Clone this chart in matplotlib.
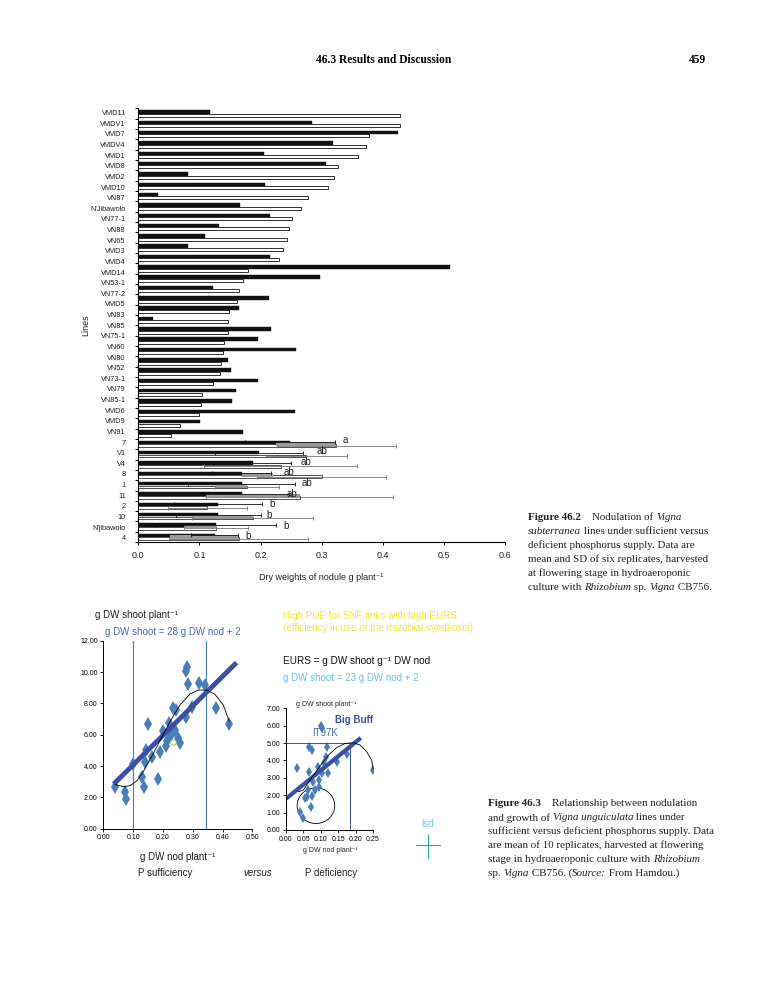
import numpy as np
import matplotlib
matplotlib.use("Agg")
import matplotlib.pyplot as plt
from matplotlib.patches import Ellipse

plt.rcParams['font.family'] = ['Liberation Sans', 'DejaVu Sans']

# ---- Figure 46.2 data (nodule dry weight, g/plant) ----
lines_top = ["VMD11", "VMDV1", "VMD7", "VMDV4", "VMD1", "VMD8", "VMD2", "VMD10", "VN87",
             "N'Jibawolo", "VN77-1", "VN88", "VN65", "VMD3", "VMD4", "VMD14", "VN53-1",
             "VN77-2", "VMD5", "VN83", "VN85", "VN75-1", "VN60", "VN80", "VN52", "VN73-1",
             "VN79", "VN85-1", "VMD6", "VMD9", "VN91"]
black_top = [0.117, 0.285, 0.425, 0.318, 0.206, 0.307, 0.081, 0.207, 0.032, 0.166, 0.215,
             0.132, 0.109, 0.081, 0.215, 0.510, 0.297, 0.122, 0.214, 0.165, 0.024, 0.217,
             0.196, 0.258, 0.147, 0.152, 0.196, 0.160, 0.153, 0.256, 0.101, 0.172]
white_top = [0.429, 0.429, 0.378, 0.372, 0.360, 0.326, 0.321, 0.311, 0.277, 0.267, 0.252,
             0.246, 0.244, 0.236, 0.230, 0.180, 0.171, 0.164, 0.161, 0.149, 0.146, 0.146,
             0.140, 0.138, 0.135, 0.133, 0.123, 0.104, 0.102, 0.100, 0.069, 0.053]

lines_bot = ["7", "V1", "V4", "8", "1", "11", "2", "10", "N'jibawolo", "4"]
black_bot = [0.248, 0.197, 0.187, 0.169, 0.169, 0.169, 0.131, 0.131, 0.127, 0.125]
black_sd = [0.074, 0.072, 0.063, 0.048, 0.087, 0.077, 0.072, 0.070, 0.099, 0.038]
white_bot = [0.324, 0.275, 0.233, 0.300, 0.178, 0.264, 0.113, 0.187, 0.127, 0.164]
white_sd = [0.097, 0.066, 0.125, 0.105, 0.053, 0.153, 0.065, 0.099, 0.052, 0.113]
grey_lo = [0.226, None, None, 0.169, 0.127, 0.110, None, 0.090, 0.075, 0.052]
grey_hi = [0.324, None, None, 0.220, 0.178, 0.264, None, 0.187, 0.127, 0.164]
letters = ["a", "ab", "ab", "ab", "ab", "ab", "b", "b", "b", "b"]
letter_x = [0.335, 0.291, 0.265, 0.238, 0.268, 0.243, 0.214, 0.209, 0.238, 0.175]

# ---- Figure 46.3 data ----
suff_nod = [0.039, 0.073, 0.076, 0.100, 0.131, 0.138, 0.141, 0.143, 0.150, 0.162, 0.182,
            0.191, 0.201, 0.209, 0.213, 0.220, 0.228, 0.234, 0.240, 0.244, 0.251, 0.258,
            0.276, 0.279, 0.282, 0.285, 0.299, 0.322, 0.341, 0.378, 0.423]
suff_shoot = [2.64, 2.36, 1.87, 4.10, 3.28, 2.66, 4.28, 5.02, 6.66, 4.60, 3.15,
              4.87, 6.26, 5.28, 5.60, 6.72, 5.98, 7.70, 6.30, 7.55, 5.77, 5.45,
              7.15, 10.06, 10.30, 9.21, 7.79, 9.32, 9.19, 7.72, 6.68]
suff_fit_x = [0.035, 0.447]
suff_fit_y = [2.85, 10.6]
suff_curve_x = [0.039, 0.067, 0.089, 0.112, 0.134, 0.168, 0.201, 0.229, 0.257, 0.291,
                0.319, 0.347, 0.375, 0.403, 0.423]
suff_curve_y = [2.83, 2.68, 2.74, 3.04, 3.64, 4.81, 6.02, 7.00, 7.89, 8.60,
                8.85, 8.85, 8.57, 7.89, 6.83]
suff_vlines = [0.10, 0.345]

def_nod = [0.033, 0.041, 0.050, 0.055, 0.059, 0.062, 0.067, 0.067, 0.071, 0.074, 0.076,
           0.078, 0.083, 0.093, 0.095, 0.096, 0.103, 0.104, 0.109, 0.115, 0.117, 0.122,
           0.146, 0.176, 0.251]
def_shoot = [3.54, 1.05, 0.71, 1.82, 1.92, 2.30, 3.35, 4.75, 1.34, 1.95, 4.60,
             2.78, 2.30, 3.64, 2.45, 2.87, 3.26, 5.84, 3.87, 4.21, 4.75, 3.29,
             3.93, 4.40, 3.45]
def_fit_x = [0.0, 0.215]
def_fit_y = [1.8, 5.3]
def_curve_x = [0.035, 0.050, 0.069, 0.098, 0.122, 0.146, 0.170, 0.193, 0.213, 0.232, 0.246, 0.251]
def_curve_y = [2.20, 2.30, 2.87, 3.68, 4.31, 4.75, 4.98, 5.02, 4.89, 4.50, 4.02, 3.45]

W, H = 765, 990
fig = plt.figure(figsize=(W / 100, H / 100), dpi=100)
renderer = fig.canvas.get_renderer()


def fx(x):
    return x / W


def fy(y):
    return 1 - y / H


def axrect(l, t, r, b):
    return [l / W, 1 - b / H, (r - l) / W, (b - t) / H]


serif = 'Liberation Serif'


def rich_line(x, y, parts, size):
    # parts: list of (text, style) where style is 'n', 'i' or 'b'
    cur = x
    for txt, st in parts:
        t = fig.text(fx(cur), fy(y), txt, family=serif, size=size, ha='left', va='center',
                     color='#222222', style='italic' if st == 'i' else 'normal',
                     weight='bold' if st == 'b' else 'normal')
        cur += t.get_window_extent(renderer).width


# page header
fig.text(fx(384), fy(60), "46.3 Results and Discussion", family=serif, weight='bold',
         size=8.3, ha='center', va='center')
fig.text(fx(706), fy(60), "459", family=serif, weight='bold', size=8.3, ha='right', va='center')

# ================= Figure 46.2 bar chart =================
ax = fig.add_axes(axrect(138.3, 108, 505, 542.3))
n_bars = len(black_top) + len(black_bot)
# bars sit on 42 evenly spaced slots, labels on 41 slots (as in the original)
pos = np.linspace(-0.07, 39.78, n_bars)
off = 0.31
nt = len(black_top)
ax.barh(pos[:nt], black_top, height=0.32, color='#111111', edgecolor='#111111', linewidth=0.3)
ax.barh(pos[:nt] + off, white_top, height=0.27, color='white', edgecolor='#111111', linewidth=0.6)

pb = pos[nt:]
ax.barh(pb, black_bot, height=0.32, color='#111111', edgecolor='#111111', linewidth=0.3)
ax.barh(pb + off, white_bot, height=0.27, color='white', edgecolor='#333333', linewidth=0.6)
for i in range(len(lines_bot)):
    if grey_lo[i] is not None:
        ax.barh(pb[i] + off / 2, grey_hi[i] - grey_lo[i], left=grey_lo[i], height=0.3,
                color='#9a9a9a', edgecolor='none')
ax.errorbar(black_bot, pb, xerr=black_sd, fmt='none', ecolor='#111111', elinewidth=0.6,
            capsize=1.6, capthick=0.6)
ax.errorbar(white_bot, pb + off, xerr=white_sd, fmt='none', ecolor='#777777', elinewidth=0.6,
            capsize=1.6, capthick=0.6)
lab_pos = np.arange(len(lines_top) + len(lines_bot))
for i, t in enumerate(letters):
    ax.text(letter_x[i], lab_pos[len(lines_top) + i] - 0.15, t, size=7, color='#222222',
            ha='left', va='center')

ax.set_xlim(0, 0.6)
ax.set_ylim(40.43, -0.44)
ax.set_yticks(lab_pos)
ax.set_yticklabels(lines_top + lines_bot)
step = pos[1] - pos[0]
ax.set_yticks(np.append(pos + 0.15 - step / 2, pos[-1] + 0.15 + step / 2), minor=True)
ax.tick_params(axis='y', which='major', length=0, labelsize=5.3, pad=9, labelcolor='#222222')
ax.tick_params(axis='y', which='minor', length=2.5, width=0.7, direction='out')
ax.set_xticks(np.arange(0, 0.61, 0.1))
ax.set_xticklabels(["0.0", "0.1", "0.2", "0.3", "0.4", "0.5", "0.6"])
ax.tick_params(axis='x', length=2.5, width=0.7, labelsize=6.5, pad=4, labelcolor='#222222')
for s in ['top', 'right']:
    ax.spines[s].set_visible(False)
ax.spines['left'].set_linewidth(0.8)
ax.spines['bottom'].set_linewidth(0.8)
ax.set_xlabel("Dry weights of nodule g plant⁻¹", size=6.5, labelpad=9, color='#222222')
ax.set_ylabel("Lines", size=6.5, labelpad=0, color='#222222')

cap1 = [[("Figure 46.2", 'b'), ("    Nodulation of ", 'n'), ("Vigna", 'i')],
        [("subterranea", 'i'), (" lines under sufficient versus", 'n')],
        [("deficient phosphorus supply. Data are", 'n')],
        [("mean and SD of six replicates, harvested", 'n')],
        [("at flowering stage in hydroaeroponic", 'n')],
        [("culture with ", 'n'), ("Rhizobium", 'i'), (" sp. ", 'n'), ("Vigna", 'i'),
         (" CB756.", 'n')]]
for i, parts in enumerate(cap1):
    rich_line(528, 518 + 13.8 * i, parts, 7.9)

# ================= Figure 46.3 scatter plots =================
blue = '#4a7ebb'
dark = '#3d4fa1'
ax1 = fig.add_axes(axrect(103.3, 640.7, 252.3, 828.7))
ax1.plot(suff_nod, suff_shoot, 'd', color=blue, markersize=6.8, markeredgewidth=0)
for v in suff_vlines:
    ax1.axvline(v, color=blue, lw=0.8)
ax1.plot(suff_fit_x, suff_fit_y, color=dark, lw=3.5, solid_capstyle='butt')
ax1.plot(suff_curve_x, suff_curve_y, color='black', lw=0.6)
ax1.plot([0.235], [5.55], 'o', mfc='none', mec='#9ad04a', ms=4, mew=0.7)
ax1.set_xlim(0, 0.5)
ax1.set_ylim(0, 12)
ax1.set_xticks(np.arange(0, 0.51, 0.1))
ax1.set_xticklabels(["%.2f" % v for v in np.arange(0, 0.51, 0.1)])
ax1.set_yticks(np.arange(0, 12.1, 2))
ax1.set_yticklabels(["%.2f" % v for v in np.arange(0, 12.1, 2)])
ax1.tick_params(labelsize=5, length=2, width=0.6, pad=2)
for s in ['top', 'right']:
    ax1.spines[s].set_visible(False)
ax1.spines['left'].set_linewidth(0.7)
ax1.spines['bottom'].set_linewidth(0.7)

ax2 = fig.add_axes(axrect(286, 708.3, 373, 830))
ax2.plot(def_nod, def_shoot, 'd', color=blue, markersize=4.6, markeredgewidth=0)
ax2.plot([0, 0.185, 0.185], [5.0, 5.0, 0], color=dark, lw=0.7)
ax2.plot(def_fit_x, def_fit_y, color=dark, lw=3, solid_capstyle='butt')
ax2.plot(def_curve_x, def_curve_y, color='black', lw=0.6)
ax2.add_patch(Ellipse((0.086, 1.40), 0.108, 2.05, fill=False, edgecolor='black', lw=0.6))
ax2.plot([0.102], [6.0], 'd', color=blue, markersize=4.6, markeredgewidth=0)
ax2.set_xlim(0, 0.25)
ax2.set_ylim(0, 7)
ax2.set_xticks(np.arange(0, 0.251, 0.05))
ax2.set_xticklabels(["%.2f" % v for v in np.arange(0, 0.251, 0.05)])
ax2.set_yticks(np.arange(0, 7.1, 1))
ax2.set_yticklabels(["%.2f" % v for v in np.arange(0, 7.1, 1)])
ax2.tick_params(labelsize=5, length=2, width=0.6, pad=2)
for s in ['top', 'right']:
    ax2.spines[s].set_visible(False)
ax2.spines['left'].set_linewidth(0.7)
ax2.spines['bottom'].set_linewidth(0.7)

fig.text(fx(95), fy(615), "g DW shoot plant⁻¹", size=7, ha='left', va='center', color='#222222')
fig.text(fx(105), fy(632), "g DW shoot = 28 g DW nod + 2", size=7, ha='left', va='center',
         color='#4a68b3')
fig.text(fx(178), fy(857), "g DW nod plant⁻¹", size=7, ha='center', va='center', color='#222222')
fig.text(fx(165), fy(873), "P sufficiency", size=7, ha='center', va='center', color='#222222')
fig.text(fx(258), fy(873), "versus", size=7, style='italic', ha='center', va='center',
         color='#222222')
fig.text(fx(331), fy(873), "P deficiency", size=7, ha='center', va='center', color='#222222')

fig.text(fx(283), fy(616), "High PUE for SNF links with high EURS", size=7.1, ha='left',
         va='center', color='#f2e43c')
fig.text(fx(283), fy(628), "(efficiency in use of the rhizobial symbiosis)", size=7.1, ha='left',
         va='center', color='#f2e43c')
fig.text(fx(283), fy(661), "EURS = g DW shoot g⁻¹ DW nod", size=7.2, ha='left', va='center',
         color='#111111')
fig.text(fx(283), fy(678), "g DW shoot = 23 g DW nod + 2", size=7, ha='left', va='center',
         color='#6cc0e2')
fig.text(fx(296), fy(704), "g DW shoot plant⁻¹", size=5, ha='left', va='center', color='#222222')
fig.text(fx(330), fy(850), "g DW nod plant⁻¹", size=5, ha='center', va='center', color='#222222')
fig.text(fx(354), fy(720), "Big Buff", size=7, weight='bold', ha='center', va='center',
         color='#3d4fa1')
fig.text(fx(325), fy(733), "IT97K", size=7, ha='center', va='center', color='#4a68b3')

fig.text(fx(428), fy(824), "lsd", size=7, ha='center', va='center', color='#7ccbe0')
fig.add_artist(plt.Line2D([fx(416), fx(440)], [fy(845), fy(845)], color='#2aa9a9', lw=0.8))
fig.add_artist(plt.Line2D([fx(428), fx(428)], [fy(835), fy(858)], color='#2aa9a9', lw=0.8))

cap2 = [[("Figure 46.3", 'b'), ("    Relationship between nodulation", 'n')],
        [("and growth of ", 'n'), ("Vigna unguiculata", 'i'), (" lines under", 'n')],
        [("sufficient versus deficient phosphorus supply. Data", 'n')],
        [("are mean of 10 replicates, harvested at flowering", 'n')],
        [("stage in hydroaeroponic culture with ", 'n'), ("Rhizobium", 'i')],
        [("sp. ", 'n'), ("Vigna", 'i'), (" CB756. (", 'n'), ("Source:", 'i'),
         (" From Hamdou.)", 'n')]]
for i, parts in enumerate(cap2):
    rich_line(488, 804 + 13.8 * i, parts, 7.9)

fig.savefig("out.png", dpi=100, facecolor='white')
